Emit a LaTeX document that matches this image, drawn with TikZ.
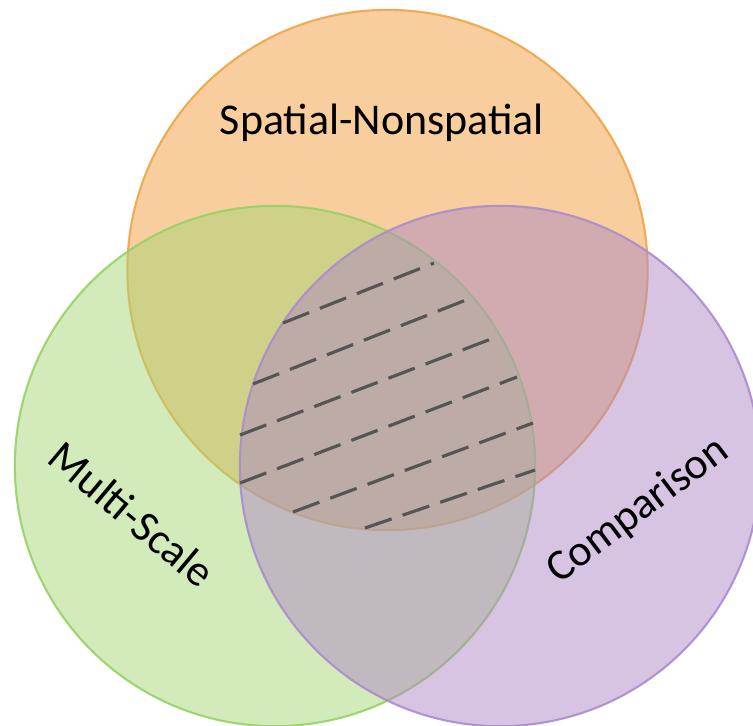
\documentclass[tikz,border=0pt]{standalone}
\usepackage{fontspec}
\setmainfont{Carlito}

\definecolor{orgfill}{RGB}{241,157,61}
\definecolor{grnfill}{RGB}{167,213,117}
\definecolor{purfill}{RGB}{173,137,197}
\definecolor{orgline}{RGB}{240,165,70}
\definecolor{grnline}{RGB}{150,210,100}
\definecolor{purline}{RGB}{170,140,205}
\definecolor{hatchgray}{RGB}{85,85,85}

\begin{document}
\begin{tikzpicture}[x=0.01cm,y=-0.01cm,
    venn/.style={fill opacity=0.5,draw opacity=0.9,line width=0.6pt},
    hatch/.style={draw=hatchgray,line width=0.9pt,dash pattern=on 8pt off 3.3pt},
    lbl/.style={font=\fontsize{12.5}{15}\selectfont,inner sep=0pt}]
  \useasboundingbox (0,0) rectangle (753,726);
  \clip (0,0) rectangle (753,726);

  % the three sets
  \path[venn,fill=orgfill,draw=orgline] (387.5,270) circle [radius=2.6cm];
  \path[venn,fill=grnfill,draw=grnline] (275,466) circle [radius=2.6cm];
  \path[venn,fill=purfill,draw=purline] (500,466) circle [radius=2.6cm];

  % hatching of the common part
  \coordinate (h1a) at (283,323); \coordinate (h1b) at (434,263);
  \coordinate (h2a) at (253,384); \coordinate (h2b) at (466,300);
  \coordinate (h3a) at (240,435); \coordinate (h3b) at (491,339);
  \coordinate (h4a) at (240,483); \coordinate (h4b) at (517,377);
  \coordinate (h5a) at (293,512); \coordinate (h5b) at (533,423);
  \coordinate (h6a) at (365,528); \coordinate (h6b) at (535,470);
  \draw[hatch] (h1a) -- (h1b);
  \draw[hatch] (h2a) -- (h2b);
  \draw[hatch] (h3a) -- (h3b);
  \draw[hatch] (h4a) -- (h4b);
  \draw[hatch] (h5a) -- (h5b);
  \draw[hatch] (h6a) -- (h6b);

  % set names
  \node[lbl,anchor=base] (spatial) at (382,134) {Spatial-Nonspatial};
  \node[lbl,rotate=-40] (multi) at (132,514) {Multi-Scale};
  \node[lbl,rotate=37] (compare) at (638,511) {Comparison};
\end{tikzpicture}
\end{document}
